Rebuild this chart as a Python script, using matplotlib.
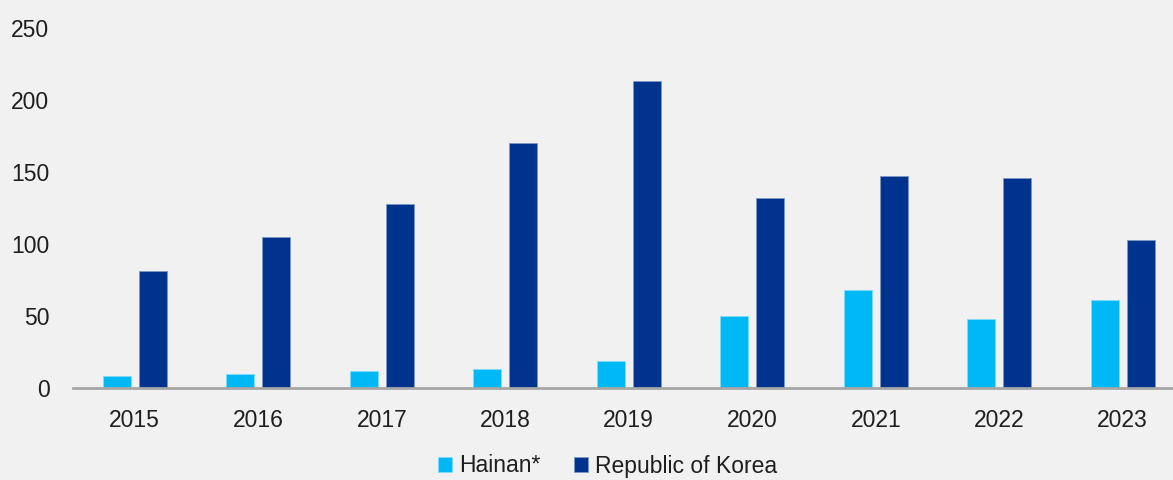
import matplotlib.pyplot as plt
import numpy as np

plt.rcParams['font.family'] = ['Liberation Sans', 'DejaVu Sans']

years = ['2015', '2016', '2017', '2018', '2019', '2020', '2021', '2022', '2023']
hainan = [8, 10, 12, 13, 19, 50, 68, 48, 61]
korea = [81, 105, 128, 170, 213, 132, 147, 146, 103]

bg = '#f1f1f1'
c_hainan = '#00b8f5'
c_korea = '#00338d'
txt = '#1e1e1e'

fig = plt.figure(figsize=(11.73, 4.8), dpi=100, facecolor=bg)
ax = fig.add_axes([73 / 1173, 92 / 480, 1100 / 1173, 360 / 480], facecolor=bg)

x = np.arange(len(years))
w = 0.225
ax.bar(x - 0.145, hainan, w, color=c_hainan, edgecolor='#7fdcfa', linewidth=0.6,
       label='Hainan*', zorder=2)
ax.bar(x + 0.145, korea, w, color=c_korea, edgecolor='#7f99c6', linewidth=0.6,
       label='Republic of Korea', zorder=2)

ax.set_xlim(-0.5, -0.5 + 1100 / 123.5)
ax.set_ylim(0, 250)
ax.set_yticks(range(0, 251, 50))
ax.set_xticks(x)
ax.set_xticklabels(years)

for s in ['top', 'right', 'left']:
    ax.spines[s].set_visible(False)
ax.spines['bottom'].set_color('#a6a6a6')
ax.spines['bottom'].set_linewidth(2)
ax.spines['bottom'].set_zorder(3)

ax.tick_params(axis='both', length=0, labelsize=16.5, colors=txt)
ax.tick_params(axis='y', pad=17)
ax.tick_params(axis='x', pad=15)

leg = fig.legend(loc='center', bbox_to_anchor=(0.518, 14 / 480),
                 ncol=2, frameon=False, fontsize=16.5, handlelength=0.6,
                 handleheight=0.6, handletextpad=0.3, columnspacing=1.5,
                 borderpad=0.2)
for t in leg.get_texts():
    t.set_color(txt)

fig.savefig('out.png', dpi=100, facecolor=bg)
